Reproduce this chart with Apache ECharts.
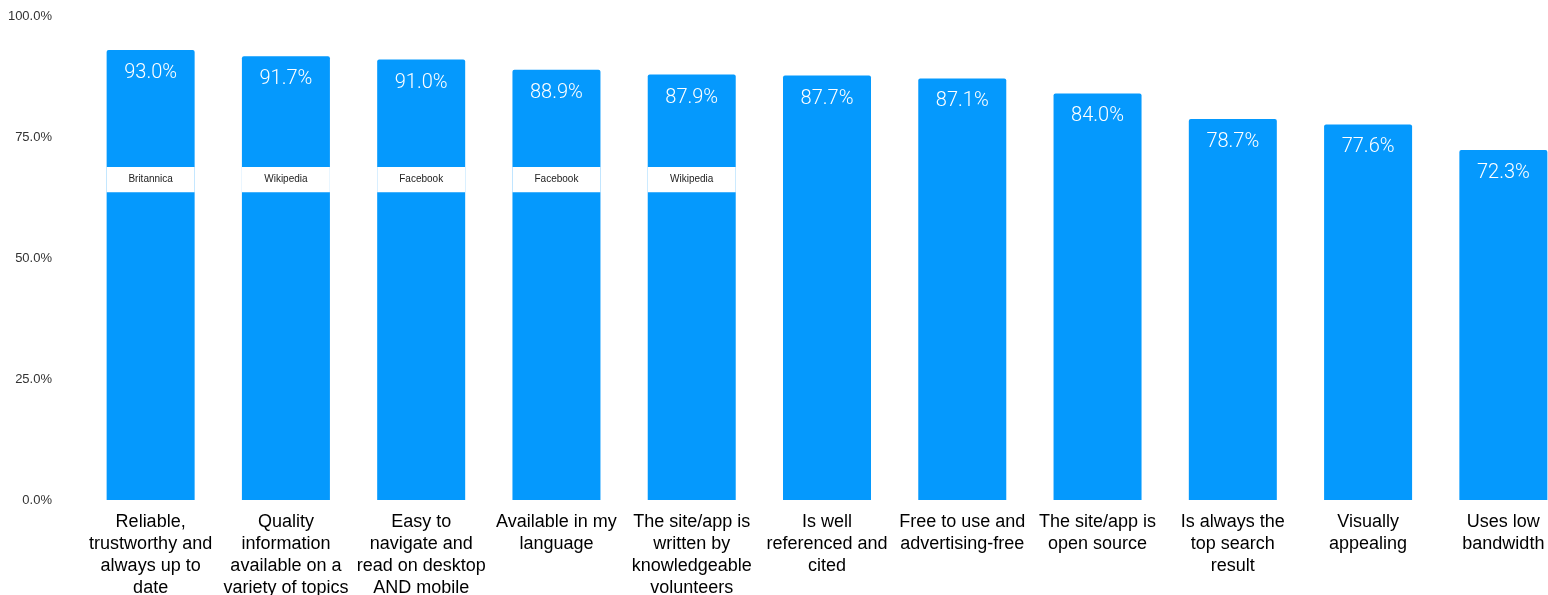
<!DOCTYPE html>
<html>
<head>
<meta charset="utf-8">
<script src="https://cdn.jsdelivr.net/npm/echarts@6/dist/echarts.min.js"></script>
<style>
  html, body { margin: 0; padding: 0; background: #fff; overflow: hidden; }
  #chart { width: 1548px; height: 595px; }
</style>
</head>
<body>
<div id="chart"></div>
<script>
// Attributes rated as important, share of respondents (%)
const categories = [
  'Reliable,\ntrustworthy and\nalways up to\ndate',
  'Quality\ninformation\navailable on a\nvariety of topics',
  'Easy to\nnavigate and\nread on desktop\nAND mobile',
  'Available in my\nlanguage',
  'The site/app is\nwritten by\nknowledgeable\nvolunteers',
  'Is well\nreferenced and\ncited',
  'Free to use and\nadvertising-free',
  'The site/app is\nopen source',
  'Is always the\ntop search\nresult',
  'Visually\nappealing',
  'Uses low\nbandwidth'
];
const values = [93.0, 91.7, 91.0, 88.9, 87.9, 87.7, 87.1, 84.0, 78.7, 77.6, 72.3];

// Site most associated with each attribute (blank where none is named)
const siteLabels = ['Britannica', 'Wikipedia', 'Facebook', 'Facebook', 'Wikipedia', '', '', '', '', '', ''];
// Where the site band sits on the value scale
const bandFrom = 63.6;
const bandTo = 68.8;

const yTicks = [0, 25, 50, 75, 100];

const BLUE = '#0599fd';

const chart = echarts.init(document.getElementById('chart'), null, { renderer: 'canvas' });

const bandBase = siteLabels.map(s => (s ? bandFrom : '-'));
const bandSize = siteLabels.map(s => (s ? +(bandTo - bandFrom).toFixed(2) : '-'));

chart.setOption({
  animation: false,
  grid: {
    left: 83, top: 16, width: 1488, height: 484,
    containLabel: false,
    outerBoundsMode: 'none'
  },
  xAxis: {
    type: 'category',
    data: categories,
    axisLine: { show: false },
    axisTick: { show: false },
    axisLabel: {
      interval: 0,
      margin: 11,
      color: '#000',
      fontFamily: 'Liberation Sans, Arial, sans-serif',
      fontSize: 18,
      lineHeight: 22,
      align: 'center'
    }
  },
  yAxis: {
    type: 'value',
    min: yTicks[0],
    max: yTicks[yTicks.length - 1],
    interval: 25,
    splitLine: { show: false },
    axisLine: { show: false },
    axisTick: { show: false },
    axisLabel: {
      margin: 31,
      color: '#333',
      fontFamily: 'Liberation Sans, Arial, sans-serif',
      fontSize: 13,
      formatter: v => v.toFixed(1) + '%'
    }
  },
  series: [
    {
      name: 'Share',
      type: 'bar',
      data: values,
      barWidth: 88,
      barGap: '-100%',
      itemStyle: { color: BLUE, borderRadius: [2, 2, 0, 0] },
      label: {
        show: true,
        position: 'insideTop',
        distance: 13,
        color: '#fff',
        fontFamily: 'Roboto, sans-serif',
        fontWeight: 300,
        fontSize: 20,
        formatter: p => p.value.toFixed(1) + '%'
      }
    },
    {
      name: 'bandBase',
      type: 'bar',
      stack: 'band',
      data: bandBase,
      barWidth: 88,
      barGap: '-100%',
      silent: true,
      itemStyle: { color: 'rgba(0,0,0,0)' }
    },
    {
      name: 'Site',
      type: 'bar',
      stack: 'band',
      data: bandSize,
      barWidth: 88,
      barGap: '-100%',
      silent: true,
      itemStyle: { color: '#fff' },
      label: {
        show: true,
        position: 'inside',
        color: '#222',
        fontFamily: 'Liberation Sans, Arial, sans-serif',
        fontSize: 10,
        formatter: p => siteLabels[p.dataIndex]
      }
    }
  ]
});
</script>
</body>
</html>
